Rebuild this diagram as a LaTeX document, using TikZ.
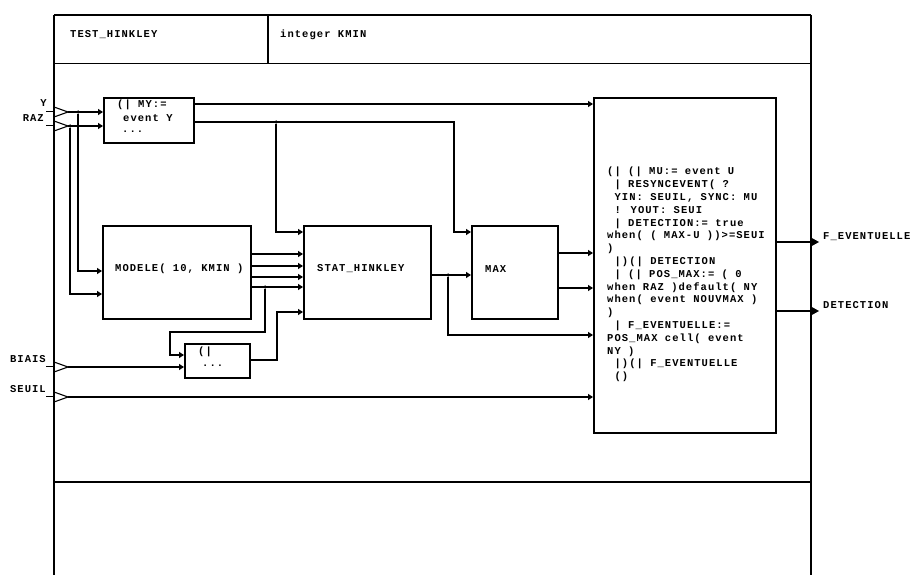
\documentclass[tikz,border=0pt]{standalone}
\usepackage{fontspec}
\newfontfamily\plotfont{Liberation Mono}[LetterSpace=10]
\usetikzlibrary{arrows.meta}
\begin{document}
\begin{tikzpicture}[x=1pt,y=-1pt,
  txt/.style={font={\plotfont\bfseries\fontsize{10.5}{12.8}\selectfont}, inner sep=0pt, anchor=west},
  blk/.style={draw, line width=2.2pt, inner sep=0pt, anchor=north west},
  frame/.style={line width=1.8pt},
  wire/.style={line width=1.3pt},
  pin/.style={wire, -{Triangle[length=5pt,width=6pt]}},
  inport/.style={line width=1.1pt},
  dot/.style={circle, fill, inner sep=0pt, minimum size=3.5pt}
]
\useasboundingbox (0,0) rectangle (912,575);
\begin{scope}
\clip (0,0) rectangle (912,575);
% outer frame
\draw[frame] (54,15) -- (811,15);
\draw[frame] (54,15) -- (54,600);
\draw[frame] (811,15) -- (811,600);
\draw[frame] (54,63.5) -- (811,63.5);
\draw[frame] (268,15) -- (268,63.5);
\draw[frame] (54,482) -- (811,482);
\end{scope}
\node[txt] (title) at (70,35) {TEST\_HINKLEY};
\node[txt] (decl) at (280,35) {integer KMIN};

% boxes
\node[blk, minimum width=90pt, minimum height=45pt] (my) at (103,97) {};
\node[blk, minimum width=148pt, minimum height=93pt] (modele) at (102,225) {};
\node[blk, minimum width=127pt, minimum height=93pt] (stat) at (303,225) {};
\node[blk, minimum width=86pt, minimum height=93pt] (max) at (471,225) {};
\node[blk, minimum width=182pt, minimum height=335pt] (proc) at (593,97) {};
\node[blk, minimum width=65pt, minimum height=34pt] (small) at (184,343) {};

% box texts
\node[txt] (myt1) at (117,105) {(| MY:=};
\node[txt] (myt2) at (123,118) {event Y};
\node[txt] (myt3) at (122,132) {...};
\node[txt] (modt) at (115,269) {MODELE( 10, KMIN )};
\node[txt] (statt) at (317,269) {STAT\_HINKLEY};
\node[txt] (maxt) at (485,269) {MAX};
\node[txt] (smt1) at (198,352) {(|};
\node[txt] (smt2) at (202,366) {...};
\node[txt, anchor=north west, align=left] (proct) at (607,167) {%
(| (| MU:= event U\\
\ | RESYNCEVENT( ?\\
\ YIN: SEUIL, SYNC: MU\\
\ ! YOUT: SEUI\\
\ | DETECTION:= true\\
when( ( MAX-U ))>=SEUI\\
)\\
\ |)(| DETECTION\\
\ | (| POS\_MAX:= ( 0\\
when RAZ )default( NY\\
when( event NOUVMAX )\\
)\\
\ | F\_EVENTUELLE:=\\
POS\_MAX cell( event\\
NY )\\
\ |)(| F\_EVENTUELLE\\
\ ()};

% input ports
\foreach \nm/\yy in {py/112, praz/126, pbiais/367, pseuil/397}{
  \coordinate (\nm) at (68,\yy);
  \draw[inport] (46,\yy-0.8) -- (54,\yy-0.8);
  \draw[inport] (54,\yy-5) -- (68,\yy) -- (54,\yy+5);
}
\node[txt, anchor=east] (ly) at (47,103) {Y};
\node[txt, anchor=east] (lraz) at (44,118) {RAZ};
\node[txt, anchor=east] (lbiais) at (46,359) {BIAIS};
\node[txt, anchor=east] (lseuil) at (46,389) {SEUIL};

% output ports
\coordinate (ofev) at (810,242);
\coordinate (odet) at (810,311);
\fill (ofev) ++(0,-5) -- ++(9,5) -- ++(-9,5) -- cycle;
\fill (odet) ++(0,-5) -- ++(9,5) -- ++(-9,5) -- cycle;
\node[txt] (lfev) at (823,237) {F\_EVENTUELLE};
\node[txt] (ldet) at (823,305) {DETECTION};

% junctions
\node[dot] (jy) at (78,112) {};
\node[dot] (jraz) at (70,126) {};
\node[dot] (jmy2) at (276,122) {};
\node[dot] (jmod4) at (265,287) {};
\node[dot] (jstat) at (448,275) {};

% wires
\draw[pin] (py) -- (my.west |- py);
\draw[pin] (praz) -- (my.west |- praz);
\draw[pin] (jy) -- (78,271) -- (modele.west |- 0,271);
\draw[pin] (jraz) -- (70,294) -- (modele.west |- 0,294);
\draw[pin] (my.east |- 0,104) -- (proc.west |- 0,104);
\draw[pin] (my.east |- 0,122) -- (454,122) -- (454,232) -- (max.west |- 0,232);
\draw[pin] (jmy2) -- (276,232) -- (stat.west |- 0,232);
\foreach \yy in {254,266,277,287}{
  \draw[pin] (modele.east |- 0,\yy) -- (stat.west |- 0,\yy);
}
\draw[pin] (jmod4) -- (265,332) -- (170,332) -- (170,355) -- (small.west |- 0,355);
\draw[pin] (pbiais) -- (small.west |- pbiais);
\draw[pin] (small.east |- 0,360) -- (277,360) -- (277,312) -- (stat.west |- 0,312);
\draw[pin] (stat.east |- 0,275) -- (max.west |- 0,275);
\draw[pin] (jstat) -- (448,335) -- (proc.west |- 0,335);
\draw[pin] (max.east |- 0,253) -- (proc.west |- 0,253);
\draw[pin] (max.east |- 0,288) -- (proc.west |- 0,288);
\draw[pin] (pseuil) -- (proc.west |- pseuil);
\draw[wire] (proc.east |- ofev) -- (ofev);
\draw[wire] (proc.east |- odet) -- (odet);
\end{tikzpicture}
\end{document}
